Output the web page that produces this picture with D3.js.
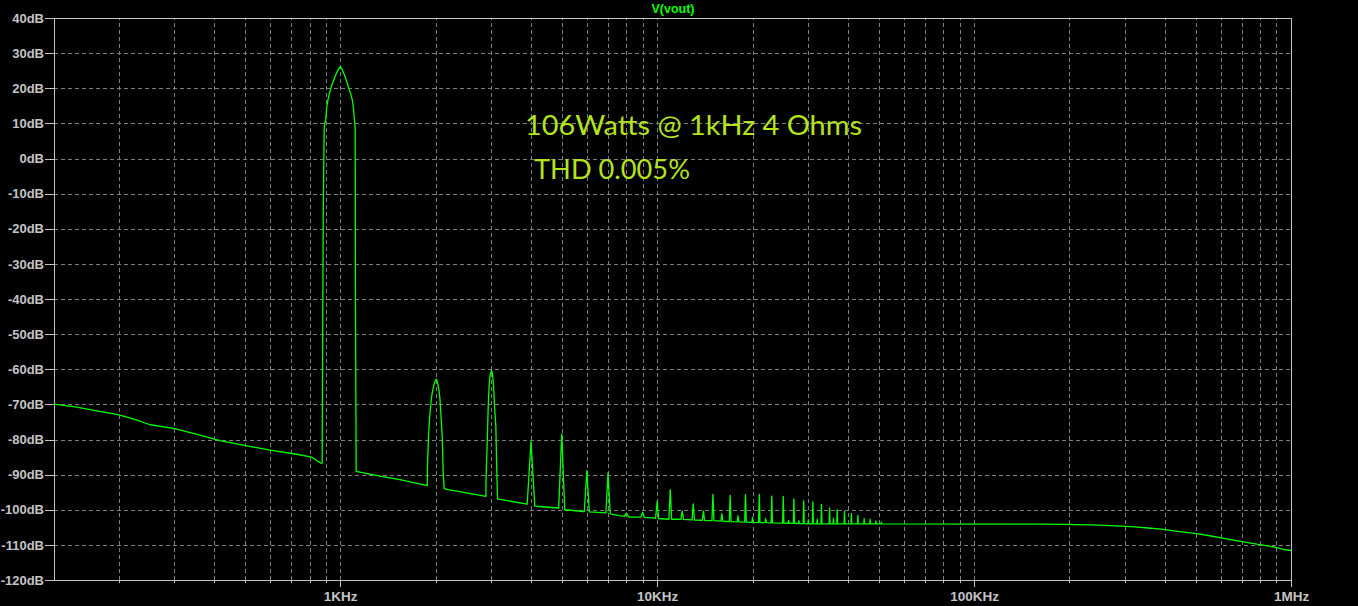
<!DOCTYPE html>
<html><head><meta charset="utf-8">
<script src="https://cdn.jsdelivr.net/npm/d3@7"></script>
<style>html,body{margin:0;padding:0;background:#000;overflow:hidden}</style>
</head><body>
<svg id="chart" width="1358" height="606"></svg>
<script>
// ---------- data ----------
const chartTitle = "V(vout)";
const annotationLines = ["106Watts @ 1kHz 4 Ohms", "THD 0.005%"];
const yTickValues = [40, 30, 20, 10, 0, -10, -20, -30, -40, -50, -60, -70, -80, -90, -100, -110, -120];
const xDecadeTicks = [1e3, 1e4, 1e5, 1e6];
const xDecadeLabels = ["1KHz", "10KHz", "100KHz", "1MHz"];
const xDomainHz = [125, 1e6];
const yDomainDb = [-120, 40];

// noise floor below the fundamental [Hz, dB]
const floorBelowFundamental = [
  [125, -69.9], [146, -70.7], [172, -71.9], [199, -72.9], [225, -74.3], [251, -75.8],
  [301, -76.9], [356, -78.6], [417, -80.3], [513, -81.9], [600, -83.0], [728, -84.2],
  [813, -85.0], [867, -86.7], [877, -86.7]
];
// 1 kHz fundamental lobe [Hz, dB]
const fundamentalLobe = [
  [879, -63.2], [884, -16.2], [890, 8.7], [901, 11.5], [906, 14.4], [917, 17.2], [928, 19.1],
  [942, 21.0], [955, 22.4], [969, 23.9], [986, 25.3], [1000, 26.2], [1015, 25.3], [1035, 23.4],
  [1052, 21.5], [1068, 19.6], [1081, 18.2], [1094, 16.3], [1102, 13.9], [1110, 10.6],
  [1115, 8.5], [1117, -40.7], [1123, -89.1]
];
const floorAfterFundamental = [[1334, -90.4], [1543, -91.4], [1882, -93.1]];
// 2 kHz harmonic lobe
const secondHarmonicLobe = [
  [1884, -88.1], [1900, -78.6], [1918, -72.7], [1932, -69.9], [1947, -67.2], [1961, -65.8],
  [1975, -64.4], [1990, -63.5], [2012, -62.8], [2034, -64.4], [2048, -65.8], [2063, -68.2],
  [2078, -72.7], [2098, -79.1], [2113, -89.5], [2129, -94.0]
];
const floorAfterSecond = [[2191, -94.3], [2504, -95.2], [2882, -96.2]];
// 3 kHz harmonic lobe
const thirdHarmonicLobe = [
  [2884, -91.4], [2909, -81.2], [2930, -71.0], [2951, -64.4], [2973, -61.6], [3003, -60.3],
  [3025, -61.6], [3047, -64.9], [3069, -70.6], [3098, -76.3], [3121, -90.0], [3136, -96.9]
];
// noise floor above 3 kHz
const floorUpper = [
  [3889, -98.4], [4143, -99.0], [4872, -99.5], [5152, -100.0], [5842, -100.5], [6888, -100.9],
  [7588, -101.7], [8307, -102.1], [8929, -102.1], [9833, -102.4], [10830, -102.7], [11940, -102.7],
  [13000, -102.9], [15000, -103.1], [17000, -103.4], [20000, -103.6], [25000, -103.8],
  [30000, -104.0], [120500, -104.1]
];
const floorTail = [
  [169200, -104.1], [234600, -104.3], [281300, -104.6], [321300, -104.9], [353900, -105.2],
  [390100, -105.5], [445700, -106.2], [503000, -106.8], [554000, -107.4], [603300, -108.0],
  [664500, -108.7], [723500, -109.3], [796800, -109.9], [873700, -110.5], [939500, -111.2],
  [1000000, -111.6]
];
// higher harmonic spikes
const harmonicFreqsKHz = [4, 5, 6, 7, 8, 9, 10, 11, 12, 13, 14, 15, 16, 17, 18, 19, 20, 21, 22, 23,
  25, 26, 27, 28, 29, 30, 31, 32, 33, 35, 36, 37, 39, 41, 43, 45, 47, 49, 51];
const harmonicPeaksDb = [-80.5, -78.4, -88.9, -89.5, -100.9, -100.7, -97.6, -94.3, -100.4, -98.3,
  -100.4, -95.6, -101.1, -95.9, -101.7, -95.6, -102.2, -95.6, -102.5, -96.1,
  -96.2, -103.0, -96.9, -103.1, -97.5, -102.8, -97.8, -102.7, -98.5, -99.5, -102.4, -100.0,
  -100.4, -101.1, -101.6, -102.5, -102.7, -103.2, -103.5];

// ---------- layout ----------
const W = 1358, H = 606;
const plot = { left: 54, right: 1291, top: 18, bottom: 580 };
const svg = d3.select("#chart");
svg.append("rect").attr("width", W).attr("height", H).attr("fill", "#000");

const x = d3.scaleLog().domain(xDomainHz).range([plot.left, plot.right]);
const y = d3.scaleLinear().domain(yDomainDb).range([plot.bottom, plot.top]);

const gridColor = "#7d7d7d", axisColor = "#c4c4c4";
const axisFont = "'Liberation Sans', Arial, sans-serif";

// grid
const gridXVals = x.ticks().filter(v => v > xDomainHz[0] && v < xDomainHz[1]);
const gx = svg.append("g").attr("transform", `translate(0,${plot.bottom})`)
  .call(d3.axisBottom(x).tickValues(gridXVals).tickSize(-(plot.bottom - plot.top)).tickFormat(""));
gx.select(".domain").remove();
gx.selectAll("line").attr("stroke", gridColor).attr("stroke-dasharray", "4,3").attr("shape-rendering", "crispEdges");

const gy = svg.append("g").attr("transform", `translate(${plot.left},0)`)
  .call(d3.axisLeft(y).tickValues(yTickValues.filter(v => v > yDomainDb[0] && v < yDomainDb[1]))
    .tickSize(-(plot.right - plot.left)).tickFormat(""));
gy.select(".domain").remove();
gy.selectAll("line").attr("stroke", gridColor).attr("stroke-dasharray", "4,3").attr("shape-rendering", "crispEdges");

// frame
svg.append("rect").attr("x", plot.left).attr("y", plot.top)
  .attr("width", plot.right - plot.left).attr("height", plot.bottom - plot.top)
  .attr("fill", "none").attr("stroke", axisColor).attr("shape-rendering", "crispEdges");

// bottom minor ticks
const minor = svg.append("g").attr("transform", `translate(0,${plot.bottom})`)
  .call(d3.axisBottom(x).tickValues(gridXVals).tickSize(3).tickFormat(""));
minor.select(".domain").remove();
minor.selectAll("line").attr("stroke", axisColor).attr("shape-rendering", "crispEdges");

// bottom major ticks + labels
const major = svg.append("g").attr("transform", `translate(0,${plot.bottom})`)
  .call(d3.axisBottom(x).tickValues(xDecadeTicks).tickSize(7).tickPadding(4)
    .tickFormat((d, i) => xDecadeLabels[i]));
major.select(".domain").remove();
major.selectAll("line").attr("stroke", axisColor).attr("shape-rendering", "crispEdges");
major.selectAll("text").attr("fill", axisColor).attr("font-family", axisFont)
  .attr("font-size", 13.5).attr("font-weight", "bold");

// left axis
const left = svg.append("g").attr("transform", `translate(${plot.left},0)`)
  .call(d3.axisLeft(y).tickValues(yTickValues).tickSize(9).tickPadding(1).tickFormat(d => d + "dB"));
left.select(".domain").remove();
left.selectAll("line").attr("stroke", axisColor).attr("shape-rendering", "crispEdges");
left.selectAll("text").attr("fill", axisColor).attr("font-family", axisFont)
  .attr("font-size", 13).attr("font-weight", "bold");

// title
svg.append("text").attr("x", (plot.left + plot.right) / 2 + 0.5).attr("y", 13)
  .attr("text-anchor", "middle").attr("fill", "#00ff00")
  .attr("font-family", axisFont).attr("font-size", 12.5).attr("font-weight", "bold")
  .text(chartTitle);

// ---------- trace ----------
const upperFloor = floorUpper.concat(floorTail);
const lf = Math.log10;
function floorAt(f) {
  for (let i = 0; i < upperFloor.length - 1; i++) {
    const a = upperFloor[i], b = upperFloor[i + 1];
    if (f >= a[0] && f <= b[0]) {
      const t = (lf(f) - lf(a[0])) / (lf(b[0]) - lf(a[0]));
      return a[1] + t * (b[1] - a[1]);
    }
  }
  return upperFloor[0][1];
}
const spikeHalfWidthHz = 110;
const spikes = harmonicFreqsKHz.flatMap((k, i) => {
  const f = k * 1000;
  return [[f - spikeHalfWidthHz, floorAt(f - spikeHalfWidthHz)], [f, harmonicPeaksDb[i]],
          [f + spikeHalfWidthHz, floorAt(f + spikeHalfWidthHz)]];
});
const upperPts = upperFloor
  .filter(p => !harmonicFreqsKHz.some(k => Math.abs(p[0] - k * 1000) <= spikeHalfWidthHz))
  .concat(spikes).sort((a, b) => a[0] - b[0]);

const trace = [].concat(floorBelowFundamental, fundamentalLobe, floorAfterFundamental,
  secondHarmonicLobe, floorAfterSecond, thirdHarmonicLobe, upperPts);

svg.append("clipPath").attr("id", "clip").append("rect")
  .attr("x", plot.left).attr("y", plot.top)
  .attr("width", plot.right - plot.left).attr("height", plot.bottom - plot.top);

svg.append("path").datum(trace)
  .attr("clip-path", "url(#clip)")
  .attr("fill", "none").attr("stroke", "#00ff00").attr("stroke-width", 1.3)
  .attr("stroke-linejoin", "round")
  .attr("d", d3.line().x(d => x(d[0])).y(d => y(d[1])));

// ---------- annotation ----------
const annColor = "#b4e31e";
const annFont = "Lato, 'Open Sans', sans-serif";
const annSpecs = [{ x: 525, y: 135, w: 337 }, { x: 534, y: 179, w: 156 }];
annotationLines.forEach((t, i) => {
  const s = annSpecs[i];
  svg.append("text").attr("x", s.x).attr("y", s.y).attr("fill", annColor)
    .attr("font-family", annFont).attr("font-size", 27)
    .attr("textLength", s.w).attr("lengthAdjust", "spacingAndGlyphs")
    .text(t);
});
</script>
</body></html>
